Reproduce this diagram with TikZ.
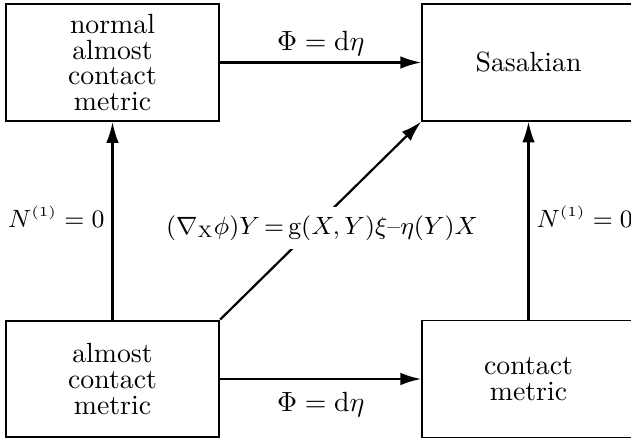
\documentclass[tikz,border=0pt]{standalone}
\usepackage{amsmath}
\usetikzlibrary{arrows.meta}

\tikzset{
  leftbox/.style={draw,line width=0.8pt,minimum width=76.7pt,minimum height=42pt,align=center,inner sep=2pt,font=\fontsize{10}{9.3}\selectfont},
  rightbox/.style={draw,line width=0.5pt,minimum width=76.7pt,minimum height=42pt,align=center,inner sep=2pt,font=\fontsize{10}{9.3}\selectfont},
  arr/.style={line width=0.8pt,-{Latex[length=7.5pt,width=4.5pt]}},
  nlabel/.style={font=\fontsize{9}{11}\selectfont},
}

\begin{document}
\begin{tikzpicture}[x=0.36pt,y=-0.36pt]
\useasboundingbox (0,0) rectangle (631,440);
\node[leftbox] (nac) at (112.5,62.5) {normal\\almost\\contact\\metric};
\node[rightbox] (sas) at (528.5,62.5) {Sasakian};
\node[leftbox] (ac) at (112.5,379) {almost\\contact\\metric};
\node[rightbox] (cm) at (528.5,379) {contact\\metric};
\draw[arr] (nac.east) -- (sas.west) node[midway,above=-1.5pt] (phitop) {$\Phi = \mathrm{d}\eta$};
\draw[arr] (ac.east) -- (cm.west) node[midway,below=1pt] (phibot) {$\Phi = \mathrm{d}\eta$};
\draw[arr] (ac.north) -- (nac.south) node[nlabel,pos=0.52,left=0pt,inner sep=2.5pt] (nleft) {$N^{\scriptscriptstyle(1)} = 0$};
\draw[arr] (cm.north) -- (sas.south) node[nlabel,pos=0.52,right=0pt,inner sep=2.5pt] (nright) {$N^{\scriptscriptstyle(1)} = 0$};
\draw[arr] (ac.north east) -- (sas.south west);
\node[nlabel,fill=white,inner sep=3pt] (nabla) at (322,228) {$(\nabla_{\mathrm{X}}\phi)Y\,{=}\,\mathrm{g}(X, Y)\xi\text{--}\eta(Y)X$};
\end{tikzpicture}
\end{document}
